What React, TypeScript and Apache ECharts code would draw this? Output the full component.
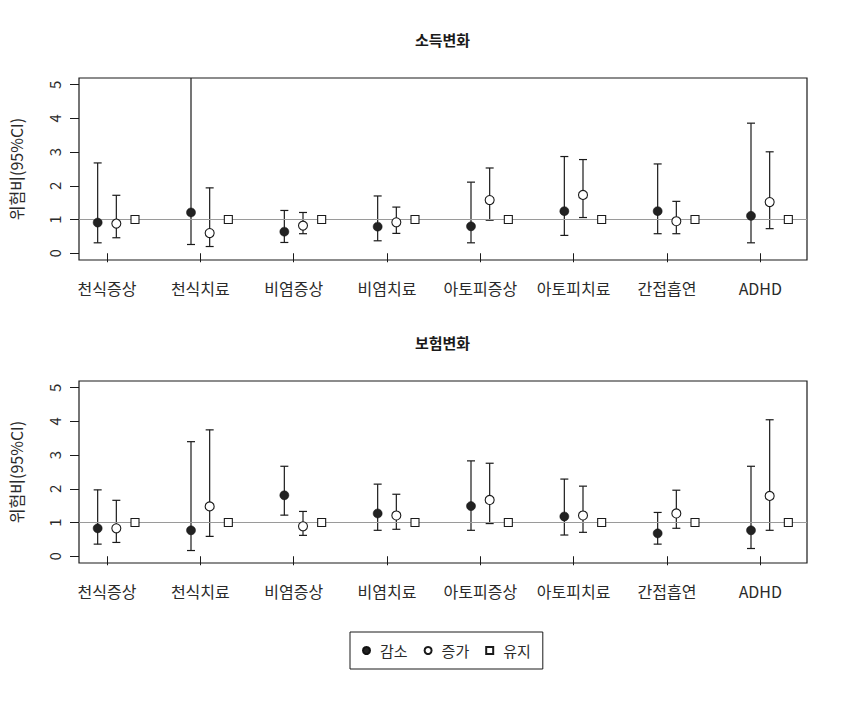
import React, { useEffect, useRef } from "react";
import * as echarts from "echarts";

const categories = ["천식증상", "천식치료", "비염증상", "비염치료", "아토피증상", "아토피치료", "간접흡연", "ADHD"];
const yTicks = [0, 1, 2, 3, 4, 5];
const panelTitles = ["소득변화", "보험변화"];
const legendNames = ["감소", "증가", "유지"];

// 소득변화 (income change)
const incomeDecrease = [0.91, 1.21, 0.64, 0.79, 0.8, 1.25, 1.25, 1.11];
const incomeDecreaseLow = [0.31, 0.26, 0.32, 0.37, 0.31, 0.53, 0.58, 0.31];
const incomeDecreaseHigh = [2.68, 6.0, 1.27, 1.7, 2.11, 2.87, 2.65, 3.86];
const incomeIncrease = [0.88, 0.6, 0.82, 0.92, 1.58, 1.73, 0.95, 1.52];
const incomeIncreaseLow = [0.46, 0.2, 0.58, 0.59, 0.98, 1.06, 0.58, 0.73];
const incomeIncreaseHigh = [1.72, 1.94, 1.21, 1.37, 2.53, 2.78, 1.54, 3.01];
const incomeMaintain = [1, 1, 1, 1, 1, 1, 1, 1];

// 보험변화 (insurance change)
const insDecrease = [0.83, 0.77, 1.81, 1.27, 1.49, 1.18, 0.68, 0.77];
const insDecreaseLow = [0.36, 0.17, 1.22, 0.77, 0.77, 0.63, 0.36, 0.23];
const insDecreaseHigh = [1.97, 3.4, 2.67, 2.14, 2.83, 2.29, 1.3, 2.67];
const insIncrease = [0.83, 1.48, 0.89, 1.21, 1.67, 1.21, 1.27, 1.79];
const insIncreaseLow = [0.41, 0.59, 0.62, 0.8, 0.97, 0.71, 0.83, 0.77];
const insIncreaseHigh = [1.66, 3.75, 1.33, 1.84, 2.76, 2.08, 1.96, 4.05];
const insMaintain = [1, 1, 1, 1, 1, 1, 1, 1];

const referenceValue = 1;

const X_MIN = 0.7;
const X_MAX = 8.5;
const Y_MIN = -0.2;
const Y_MAX = 5.2;
const OFF_DEC = -0.1;
const OFF_INC = 0.1;
const OFF_MAIN = 0.3;

const FONT = "'Noto Sans CJK KR', 'Noto Sans', sans-serif";
const INK = "#1a1a1a";
const TEXT = "#2a2a2a";

const panels = [
  {
    dec: incomeDecrease, decLo: incomeDecreaseLow, decHi: incomeDecreaseHigh,
    inc: incomeIncrease, incLo: incomeIncreaseLow, incHi: incomeIncreaseHigh,
    main: incomeMaintain,
  },
  {
    dec: insDecrease, decLo: insDecreaseLow, decHi: insDecreaseHigh,
    inc: insIncrease, incLo: insIncreaseLow, incHi: insIncreaseHigh,
    main: insMaintain,
  },
];

const gridTops = [78, 381];
const GRID_LEFT = 78;
const GRID_W = 729;
const GRID_H = 182;

function errorBarRender(params: any, api: any) {
  const x = api.value(0);
  const lo = api.value(1);
  const hi = api.value(2);
  const top = api.coord([x, Math.min(hi, Y_MAX)]);
  const bot = api.coord([x, Math.max(lo, Y_MIN)]);
  const cap = 4;
  const style = { stroke: INK, lineWidth: 1.2 };
  const children: any[] = [
    { type: "line", shape: { x1: top[0], y1: top[1], x2: bot[0], y2: bot[1] }, style },
  ];
  if (hi <= Y_MAX) {
    children.push({ type: "line", shape: { x1: top[0] - cap, y1: top[1], x2: top[0] + cap, y2: top[1] }, style });
  }
  if (lo >= Y_MIN) {
    children.push({ type: "line", shape: { x1: bot[0] - cap, y1: bot[1], x2: bot[0] + cap, y2: bot[1] }, style });
  }
  return { type: "group", children };
}

export default function App() {
  const ref = useRef<HTMLDivElement>(null);

  useEffect(() => {
    if (!ref.current) return;
    const chart = echarts.init(ref.current, null, { renderer: "svg" });

    const grids: any[] = [];
    const xAxes: any[] = [];
    const yAxes: any[] = [];
    const series: any[] = [];

    panels.forEach((p, k) => {
      grids.push({
        left: GRID_LEFT,
        top: gridTops[k],
        width: GRID_W,
        height: GRID_H,
        show: true,
        borderColor: INK,
        borderWidth: 1.2,
        backgroundColor: "transparent",
      });
      xAxes.push({
        type: "value",
        gridIndex: k,
        min: X_MIN,
        max: X_MAX,
        axisLine: { show: false },
        splitLine: { show: false },
        axisTick: {
          show: true,
          length: 9,
          customValues: categories.map((_, i) => i + 1),
          lineStyle: { color: INK, width: 1 },
        },
        axisLabel: {
          show: true,
          customValues: categories.map((_, i) => i + 1),
          formatter: (v: number) => categories[Math.round(v) - 1] ?? "",
          margin: 20,
          fontSize: 16,
          fontFamily: FONT,
          color: TEXT,
        },
      });
      yAxes.push({
        type: "value",
        gridIndex: k,
        min: Y_MIN,
        max: Y_MAX,
        axisLine: { show: false },
        splitLine: { show: false },
        axisTick: {
          show: true,
          length: 9,
          customValues: yTicks,
          lineStyle: { color: INK, width: 1 },
        },
        axisLabel: {
          show: true,
          customValues: yTicks,
          rotate: 90,
          margin: 17,
          fontSize: 15,
          fontFamily: FONT,
          color: TEXT,
        },
        name: "위험비(95%CI)",
        nameLocation: "middle",
        nameGap: 55,
        nameRotate: 90,
        nameTextStyle: { fontSize: 16, fontFamily: FONT, color: TEXT },
      });

      const dec = p.dec.map((v, i) => [i + 1 + OFF_DEC, v]);
      const inc = p.inc.map((v, i) => [i + 1 + OFF_INC, v]);
      const main = p.main.map((v, i) => [i + 1 + OFF_MAIN, v]);
      const decBars = p.dec.map((_, i) => [i + 1 + OFF_DEC, p.decLo[i], p.decHi[i]]);
      const incBars = p.inc.map((_, i) => [i + 1 + OFF_INC, p.incLo[i], p.incHi[i]]);

      series.push({
        type: "line",
        xAxisIndex: k,
        yAxisIndex: k,
        data: [],
        silent: true,
        markLine: {
          silent: true,
          symbol: "none",
          label: { show: false },
          lineStyle: { color: "#9a9a9a", width: 1, type: "solid" },
          data: [{ yAxis: referenceValue }],
        },
      });
      series.push({
        type: "custom",
        xAxisIndex: k,
        yAxisIndex: k,
        renderItem: errorBarRender,
        encode: { x: 0, y: [1, 2] },
        data: decBars,
        z: 3,
      });
      series.push({
        type: "custom",
        xAxisIndex: k,
        yAxisIndex: k,
        renderItem: errorBarRender,
        encode: { x: 0, y: [1, 2] },
        data: incBars,
        z: 3,
      });
      series.push({
        name: legendNames[0],
        type: "scatter",
        xAxisIndex: k,
        yAxisIndex: k,
        symbol: "circle",
        symbolSize: 9,
        itemStyle: { color: "#222222", borderColor: "#111", borderWidth: 0.5, opacity: 1 },
        data: dec,
        z: 5,
      });
      series.push({
        name: legendNames[1],
        type: "scatter",
        xAxisIndex: k,
        yAxisIndex: k,
        symbol: "circle",
        symbolSize: 9,
        itemStyle: { color: "#ffffff", borderColor: INK, borderWidth: 1.1, opacity: 1 },
        data: inc,
        z: 5,
      });
      series.push({
        name: legendNames[2],
        type: "scatter",
        xAxisIndex: k,
        yAxisIndex: k,
        symbol: "rect",
        symbolSize: 8,
        itemStyle: { color: "#ffffff", borderColor: INK, borderWidth: 1.1, opacity: 1 },
        data: main,
        z: 5,
      });
    });

    chart.setOption({
      animation: false,
      backgroundColor: "#ffffff",
      grid: grids,
      xAxis: xAxes,
      yAxis: yAxes,
      series,
      legend: {
        left: 350,
        top: 632,
        orient: "horizontal",
        borderColor: INK,
        borderWidth: 1,
        padding: [11, 12, 11, 12],
        itemWidth: 7,
        itemHeight: 7,
        itemGap: 16,
        selectedMode: false,
        textStyle: { fontSize: 15, fontFamily: FONT, color: TEXT, padding: [0, 0, 0, 5] },
        data: [
          { name: legendNames[0], icon: "circle" },
          { name: legendNames[1], icon: "circle" },
          { name: legendNames[2], icon: "rect" },
        ],
      },
      graphic: panelTitles.map((t, k) => ({
        type: "text",
        x: GRID_LEFT + GRID_W / 2,
        y: gridTops[k] - 39,
        style: {
          text: t,
          fontSize: 15,
          fontWeight: "bold",
          fontFamily: FONT,
          fill: INK,
          textAlign: "center",
          textVerticalAlign: "middle",
        },
      })),
    });

    return () => chart.dispose();
  }, []);

  return (
    <div
      ref={ref}
      style={{ position: "fixed", left: 0, top: 0, width: 847, height: 716, background: "#fff" }}
    />
  );
}
